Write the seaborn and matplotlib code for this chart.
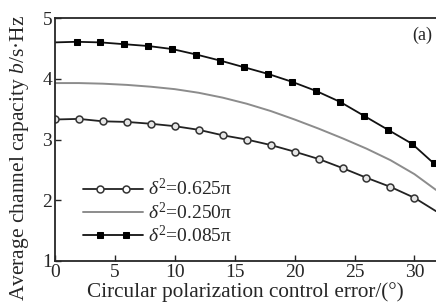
import matplotlib
matplotlib.use('Agg')
import matplotlib.pyplot as plt
import seaborn as sns
import pandas as pd
from matplotlib.lines import Line2D
from matplotlib.legend_handler import HandlerLine2D

# values
x_circ = [0, 2, 4, 6, 8, 10, 12, 14, 16, 18, 20, 22, 24, 26, 28, 30, 31.8]
y_circ = [3.33, 3.34, 3.30, 3.29, 3.26, 3.22, 3.16, 3.07, 3.00, 2.91, 2.80, 2.68, 2.53, 2.37, 2.22, 2.04, 1.82]

x_mid = [0, 2, 4, 6, 8, 10, 12, 14, 16, 18, 20, 22, 24, 26, 28, 30, 31.8]
y_mid = [3.93, 3.93, 3.92, 3.90, 3.87, 3.83, 3.77, 3.69, 3.59, 3.47, 3.33, 3.18, 3.02, 2.85, 2.66, 2.43, 2.17]

x_sq = [0, 1.8, 3.8, 5.8, 7.8, 9.8, 11.8, 13.8, 15.8, 17.8, 19.8, 21.8, 23.8, 25.8, 27.8, 29.8, 31.6, 31.8]
y_sq = [4.60, 4.61, 4.60, 4.57, 4.54, 4.49, 4.40, 4.30, 4.19, 4.08, 3.95, 3.80, 3.62, 3.39, 3.16, 2.93, 2.61, 2.57]

labels = [r'$\delta^2$=0.625π', r'$\delta^2$=0.250π', r'$\delta^2$=0.085π']
x_ticks = [0, 5, 10, 15, 20, 25, 30]
y_ticks = [1, 2, 3, 4, 5]


class InnerMarkerHandler(HandlerLine2D):
    # full-length line in the legend, two markers set in from the ends
    def create_artists(self, legend, orig_handle, xdescent, ydescent,
                       width, height, fontsize, trans):
        y = (height - ydescent) / 2
        x0, x1 = -xdescent, width - xdescent
        line = Line2D([x0, x1], [y, y])
        self.update_prop(line, orig_handle, legend)
        line.set_marker('None')
        pad = 0.28 * width
        marks = Line2D([x0 + pad, x1 - pad], [y, y])
        self.update_prop(marks, orig_handle, legend)
        marks.set_linestyle('None')
        marks.set_markevery(None)
        if marks.get_marker() == 'o':
            marks.set_markerfacecolor('white')
        line.set_transform(trans)
        marks.set_transform(trans)
        return [line, marks]


sns.set_style('ticks')
plt.rcParams['font.family'] = ['Liberation Serif', 'DejaVu Serif']
plt.rcParams['mathtext.fontset'] = 'custom'
plt.rcParams['mathtext.rm'] = 'Liberation Serif'
plt.rcParams['mathtext.it'] = 'Liberation Serif:italic'
plt.rcParams['xtick.direction'] = 'in'
plt.rcParams['ytick.direction'] = 'in'

fig = plt.figure(figsize=(4.36, 3.07), dpi=100)
ax = fig.add_axes([0.126, 0.150, 0.874, 0.791])

df_c = pd.DataFrame({'x': x_circ, 'y': y_circ})
df_m = pd.DataFrame({'x': x_mid, 'y': y_mid})
df_s = pd.DataFrame({'x': x_sq, 'y': y_sq})

sns.lineplot(data=df_c, x='x', y='y', ax=ax, color='#222222', lw=1.3, marker='o',
             markersize=5, markerfacecolor='#e6e6e6', markeredgecolor='#333333',
             markeredgewidth=1.1, markevery=list(range(len(x_circ) - 1)),
             label=labels[0], sort=False)
sns.lineplot(data=df_m, x='x', y='y', ax=ax, color='#8c8c8c', lw=1.4,
             label=labels[1], sort=False)
sns.lineplot(data=df_s, x='x', y='y', ax=ax, color='#111111', lw=1.3, marker='s',
             markersize=4.5, markerfacecolor='black', markeredgecolor='black',
             markevery=list(range(1, len(x_sq) - 1)),
             label=labels[2], sort=False)

ax.set_xlim(0, 31.8)
ax.set_ylim(1, 5)
ax.set_xticks(x_ticks)
ax.set_yticks(y_ticks)
ax.tick_params(labelsize=14, length=4, width=1, pad=2)
ax.spines['right'].set_visible(False)
for s in ['left', 'bottom', 'top']:
    ax.spines[s].set_linewidth(1.3)

ax.set_xlabel('Circular polarization control error/(°)', fontsize=15.3, labelpad=1)
ax.set_ylabel(r'Average channel capacity $b$/s·Hz', fontsize=15.5)
ax.yaxis.set_label_coords(-0.063, 0.424)
ax.text(0.99, 0.93, '(a)', transform=ax.transAxes, ha='right', va='center', fontsize=13)

leg = ax.legend(loc='lower left', bbox_to_anchor=(0.054, 0.03), frameon=False,
                handlelength=3.05, fontsize=14, labelspacing=0.1,
                handletextpad=0.26, borderaxespad=0,
                handler_map={Line2D: InnerMarkerHandler()})

fig.savefig('out.png', dpi=100)
